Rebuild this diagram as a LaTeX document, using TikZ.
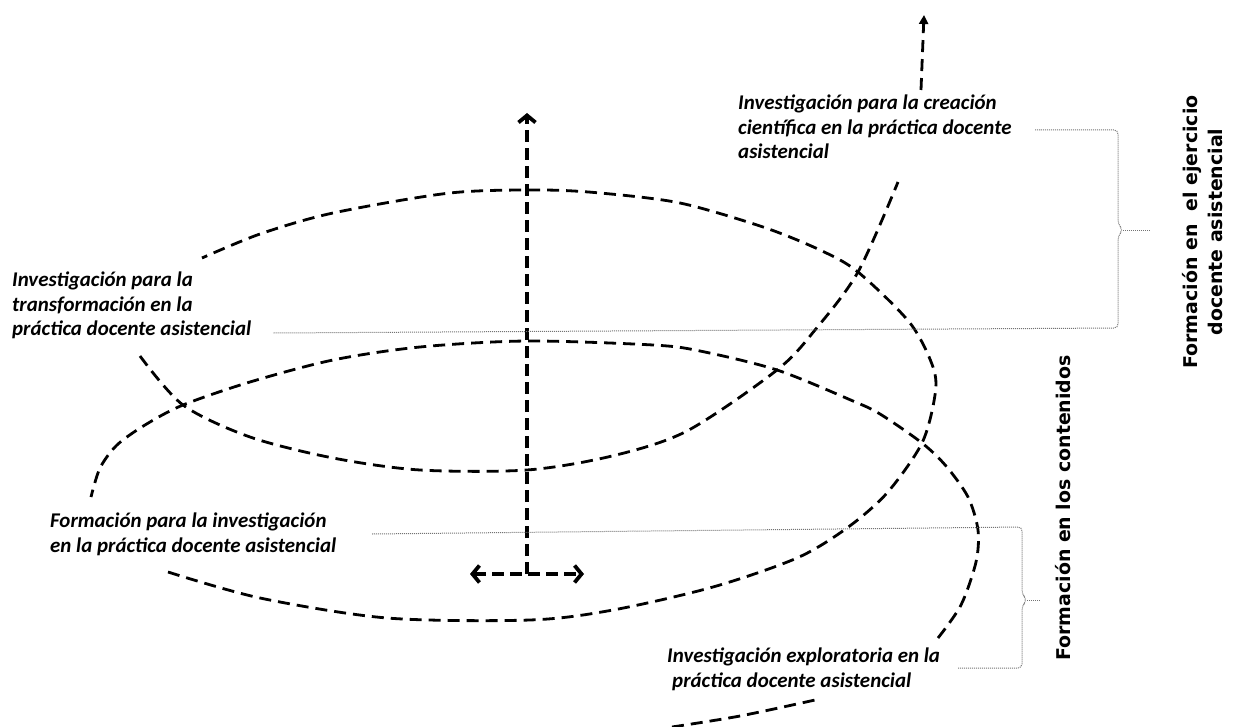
\documentclass[tikz,border=0pt]{standalone}
\usepackage{fontspec}
\setmainfont{Carlito}
\newfontfamily\titlefont{DejaVu Sans}
\usetikzlibrary{arrows.meta}

\tikzset{
	spiral/.style={line width=2.8bp, dash pattern=on 12bp off 7bp},
	axisline/.style={line width=3.8bp, dash pattern=on 12bp off 6bp},
	leader/.style={draw=black!55, line width=1bp, densely dotted, rounded corners=4bp},
	note/.style={align=left, inner sep=0pt, anchor=north west, font=\fontsize{21}{24.5}\selectfont\bfseries\itshape},
	sidetitle/.style={align=center, rotate=90, inner sep=0pt, font=\titlefont\bfseries\fontsize{19}{25}\selectfont},
}

\begin{document}
\begin{tikzpicture}[x=1bp, y=-1bp]
	\useasboundingbox (0,0) rectangle (1235,727);

	% the spiral, in the pieces left free by the labels
	\draw[spiral] plot[smooth] coordinates {(672,727) (740,716) (815,700)};
	\draw[spiral] plot[smooth] coordinates {(938,638) (961,605) (976,562) (978,530) (968,497) (946,466) (922,443) (880,414) (853,401) (777,370) (700,351) (653,345) (527,341) (420,347) (333,360) (250,382) (183,405) (145,425) (117,445) (100,468) (91,497)};
	\draw[spiral] plot[smooth] coordinates {(168,572) (260,598) (387,618) (530,620) (613,610) (713,587) (797,558) (847,528) (887,493) (922,443) (935,395) (933,367) (910,323) (858,272) (820,250) (763,227) (680,203) (600,193) (540,190) (450,193) (333,213) (260,234) (202,258)};
	\draw[spiral] plot[smooth] coordinates {(140,356) (183,405) (250,437) (333,458) (420,470) (527,470) (612,456) (687,431) (777,370) (815,330) (858,272) (898,182)};
	\draw[spiral, -{Triangle[length=9bp, width=9bp]}] (921,90) -- (924,15);

	% axes
	\coordinate (centre) at (527,574);
	\coordinate (top) at (527,113);
	\coordinate (west) at (470,574);
	\coordinate (east) at (584,574);
	\draw[axisline, -{Straight Barb[length=7bp, width=17bp]}] (centre) -- (top);
	\draw[axisline, {Straight Barb[length=7bp, width=17bp]}-{Straight Barb[length=7bp, width=17bp]}] (west) -- (east);

	% labels
	\node[note] (creacion) at (738,95) {Investigación para la creación\\científica en la práctica docente\\asistencial};
	\node[note] (transf) at (12,272) {Investigación para la\\transformación en la\\práctica docente asistencial};
	\node[note] (forminv) at (50,513) {Formación para la investigación\\en la práctica docente asistencial};
	\node[note] (explor) at (667,648) {Investigación exploratoria en la\\\hspace*{5bp}práctica docente asistencial};

	\node[sidetitle] (ejercicio) at (1203,232) {Formación en~ el ejercicio\\docente asistencial};
	\node[sidetitle] (contenidos) at (1063,508) {Formación en los contenidos};

	% brackets
	\coordinate (cr-end) at (1035,130);
	\coordinate (tr-end) at (273,333);
	\coordinate (fi-end) at (372,534);
	\coordinate (ex-end) at (958,668);
	\coordinate (ejer-tip) at (1123,230);
	\coordinate (cont-tip) at (1027,600);

	\draw[leader] (cr-end) -- (1118,130) -- (1118,224) -- (ejer-tip) -- (1118,236) -- (1118,328) -- (tr-end);
	\draw[leader] (ejer-tip) -- (1150,230);
	\draw[leader] (fi-end) -- (1022,527) -- (1022,594) -- (cont-tip) -- (1022,606) -- (1022,668) -- (ex-end);
	\draw[leader] (cont-tip) -- (1040,600);
\end{tikzpicture}
\end{document}
